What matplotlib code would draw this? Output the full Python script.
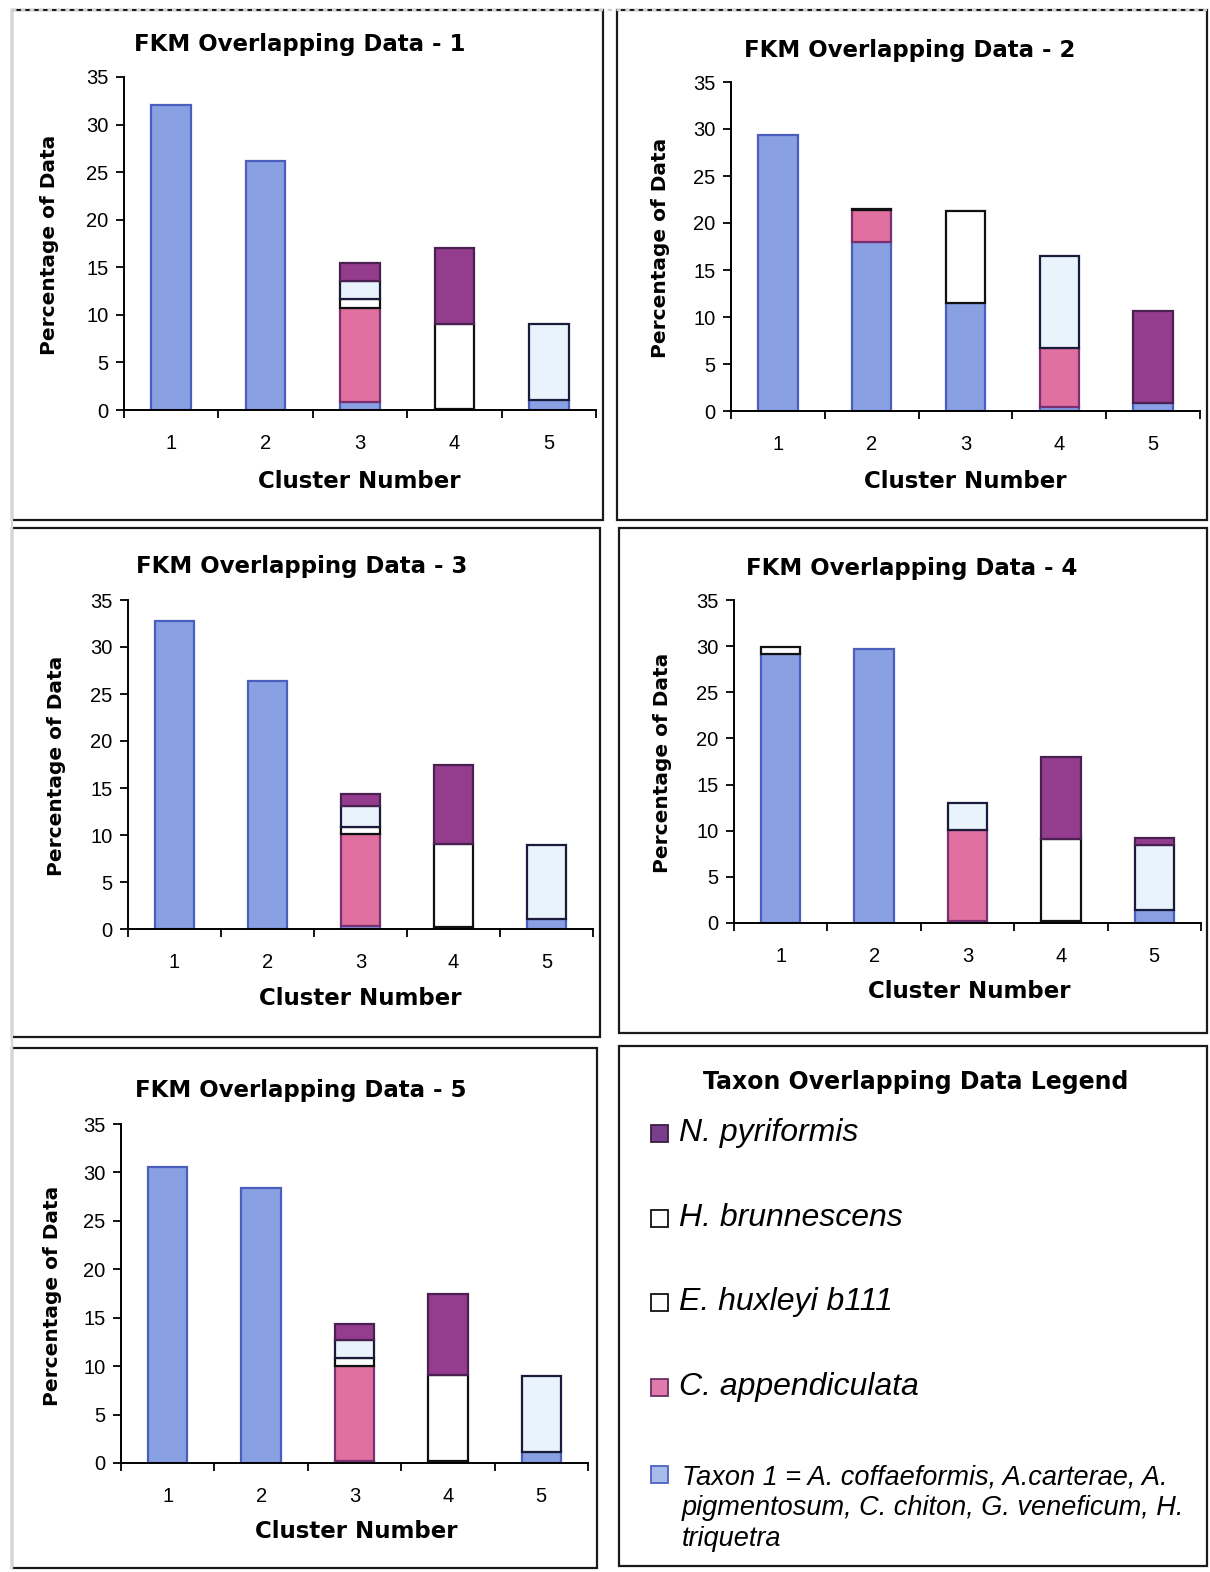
import matplotlib
matplotlib.use("Agg")
import matplotlib.pyplot as plt
from matplotlib.patches import Rectangle
from matplotlib.lines import Line2D

W, H = 1210, 1572

clusters = [1, 2, 3, 4, 5]
chart_titles = ["FKM Overlapping Data - 1", "FKM Overlapping Data - 2",
                "FKM Overlapping Data - 3", "FKM Overlapping Data - 4",
                "FKM Overlapping Data - 5"]

# per chart (1..5), per cluster (1..5)
taxon1 = [[32.1, 26.2, 0.8, 0.15, 1.0],
          [29.4, 18.0, 11.5, 0.4, 0.9],
          [32.8, 26.4, 0.3, 0.2, 1.1],
          [29.1, 29.7, 0.2, 0.2, 1.4],
          [30.6, 28.4, 0.2, 0.2, 1.1]]
c_appendiculata = [[0, 0, 9.9, 0, 0],
                   [0, 3.4, 0, 6.3, 0],
                   [0, 0, 9.8, 0, 0],
                   [0, 0, 9.9, 0, 0],
                   [0, 0, 9.8, 0, 0]]
e_huxleyi = [[0, 0, 1.0, 8.85, 0],
             [0, 0.1, 9.8, 0, 0],
             [0, 0, 0.8, 8.8, 0],
             [0.8, 0, 0, 8.85, 0],
             [0, 0, 0.8, 8.85, 0]]
h_brunnescens = [[0, 0, 1.9, 0, 8.0],
                 [0, 0, 0, 9.75, 0],
                 [0, 0, 2.2, 0, 7.8],
                 [0, 0, 2.9, 0, 7.0],
                 [0, 0, 1.9, 0, 7.9]]
n_pyriformis = [[0, 0, 1.8, 8.0, 0],
                [0, 0, 0, 0, 9.7],
                [0, 0, 1.3, 8.5, 0],
                [0, 0, 0, 8.95, 0.8],
                [0, 0, 1.6, 8.4, 0]]

series = [
    ("Taxon 1", taxon1, "#89A1E2", "#4A5EBE"),
    ("C. appendiculata", c_appendiculata, "#E0709F", "#7A3070"),
    ("E. huxleyi b111", e_huxleyi, "#FFFFFF", "#111111"),
    ("H. brunnescens", h_brunnescens, "#E9F3FB", "#1A1A3A"),
    ("N. pyriformis", n_pyriformis, "#943C8E", "#4A2050"),
]

yticks = [0, 5, 10, 15, 20, 25, 30, 35]

# layout in pixels: (x_left, x_right, y_top(35), y_zero)
axes_px = [(124, 596, 77, 410), (731, 1200, 82, 411), (128, 593, 600, 929),
           (734, 1201, 600, 923), (121, 588, 1124, 1463)]
title_px = [(300, 45), (910, 50), (302, 566), (912, 569), (301, 1090)]
xlabel_px = [(359, 481), (965, 482), (360, 998), (969, 992), (356, 1532)]
ylabel_px = [(50, 245), (660, 248), (57, 766), (663, 763), (53, 1296)]
panels_px = [(12, 10, 603, 520), (617, 10, 1207, 520), (12, 528, 600, 1037),
             (619, 528, 1207, 1033), (12, 1048, 597, 1568), (619, 1046, 1207, 1566)]

fig = plt.figure(figsize=(W / 100, H / 100), dpi=100)
fig.patch.set_facecolor("white")

def fx(x):
    return x / W

def fy(y):
    return 1 - y / H

# panel borders
for (x0, y0, x1, y1) in panels_px:
    fig.patches.append(Rectangle((fx(x0), fy(y1)), fx(x1) - fx(x0), fy(y0) - fy(y1),
                                 transform=fig.transFigure, fill=False,
                                 edgecolor="#1a1a1a", linewidth=1.6))
# faint outer frame lines
fig.lines.append(Line2D([fx(12), fx(12)], [fy(10), fy(1568)], transform=fig.transFigure,
                        color="#d5d5d5", linewidth=1.6))
fig.lines.append(Line2D([fx(12), fx(1207)], [fy(10), fy(10)], transform=fig.transFigure,
                        color="#cfcfcf", linewidth=1.6, linestyle=(0, (2, 2))))

bar_w = 0.42
for i in range(5):
    xl, xr, yt, yb = axes_px[i]
    ax = fig.add_axes([fx(xl), fy(yb), fx(xr) - fx(xl), fy(yt) - fy(yb)])
    ax.set_facecolor("none")
    bottom = [0.0] * 5
    for name, data, fc, ec in series:
        vals = data[i]
        for j in range(5):
            if vals[j] > 0:
                ax.bar(clusters[j], vals[j], bottom=bottom[j], width=bar_w,
                       color=fc, edgecolor=ec, linewidth=1.6, zorder=2)
        bottom = [b + v for b, v in zip(bottom, vals)]
    ax.set_xlim(0.5, 5.5)
    ax.set_ylim(0, 35)
    ax.spines["top"].set_visible(False)
    ax.spines["right"].set_visible(False)
    ax.spines["left"].set_linewidth(1.4)
    ax.spines["bottom"].set_linewidth(1.4)
    ax.set_yticks(yticks)
    ax.set_yticklabels([str(t) for t in yticks], fontsize=14.5, family="Liberation Sans")
    ax.set_xticks([0.5, 1.5, 2.5, 3.5, 4.5, 5.5])
    ax.set_xticklabels([])
    ax.set_xticks(clusters, minor=True)
    ax.set_xticklabels([str(c) for c in clusters], minor=True, fontsize=14.5,
                       family="Liberation Sans")
    ax.tick_params(axis="x", which="minor", length=0, pad=17)
    ax.tick_params(axis="x", which="major", length=6, width=1.3, direction="out")
    ax.tick_params(axis="y", length=6, width=1.3, direction="out", pad=5)
    fig.text(fx(title_px[i][0]), fy(title_px[i][1]), chart_titles[i], ha="center",
             va="center", fontsize=16.5, fontweight="bold", family="DejaVu Sans")
    fig.text(fx(xlabel_px[i][0]), fy(xlabel_px[i][1]), "Cluster Number", ha="center",
             va="center", fontsize=16.5, fontweight="bold", family="DejaVu Sans")
    fig.text(fx(ylabel_px[i][0]), fy(ylabel_px[i][1]), "Percentage of Data", ha="center",
             va="center", rotation=90, fontsize=14.5, fontweight="bold", family="DejaVu Sans")

# legend panel
fig.text(fx(916), fy(1082), "Taxon Overlapping Data Legend", ha="center", va="center",
         fontsize=17, fontweight="bold", family="DejaVu Sans")
legend_entries = [
    ("N. pyriformis", "#7A3F8C", "#3A2040", 1133, 23),
    ("H. brunnescens", "#FFFFFF", "#111111", 1218, 23),
    ("E. huxleyi b111", "#FFFFFF", "#111111", 1302, 23),
    ("C. appendiculata", "#E07AAA", "#6A3060", 1387, 23),
    ("Taxon 1 = A. coffaeformis, A.carterae, A.\npigmentosum, C. chiton, G. veneficum, H.\ntriquetra",
     "#A8BCEC", "#4E62C0", 1474, 19.5),
]
sw = 17
for label, fc, ec, yc, fs in legend_entries:
    fig.patches.append(Rectangle((fx(651), fy(yc + sw / 2)), fx(sw), sw / H,
                                 transform=fig.transFigure, facecolor=fc,
                                 edgecolor=ec, linewidth=1.3))
    if "\n" in label:
        fig.text(fx(682), fy(yc - 9), label, ha="left", va="top", fontsize=fs,
                 style="italic", family="Liberation Sans", linespacing=1.22)
    else:
        fig.text(fx(679), fy(yc), label, ha="left", va="center", fontsize=fs,
                 style="italic", family="Liberation Sans")

fig.savefig("out.png", dpi=100)
